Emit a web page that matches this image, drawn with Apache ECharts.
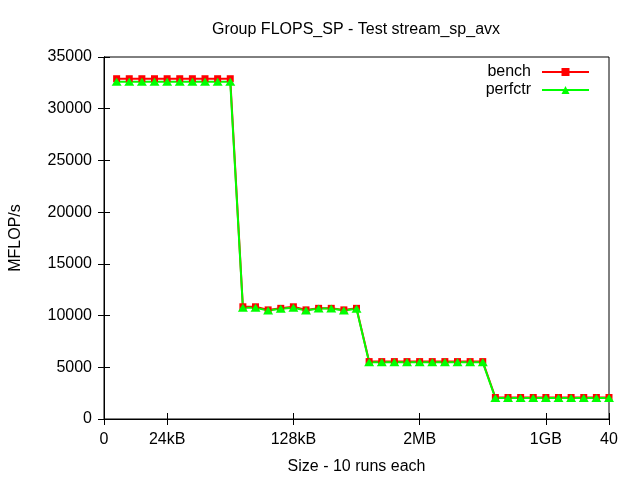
<!DOCTYPE html>
<html>
<head>
<meta charset="utf-8">
<script src="https://cdn.jsdelivr.net/npm/echarts@6/dist/echarts.min.js"></script>
<style>html,body{margin:0;padding:0;background:#fff}#c{width:640px;height:480px}</style>
</head>
<body>
<div id="c"></div>
<script>
const sizes = [1,2,3,4,5,6,7,8,9,10,11,12,13,14,15,16,17,18,19,20,21,22,23,24,25,26,27,28,29,30,31,32,33,34,35,36,37,38,39,40];
const bench = [32900,32900,32900,32900,32900,32900,32900,32900,32900,32900,
               10850,10850,10550,10700,10850,10550,10700,10700,10550,10700,
               5550,5550,5550,5550,5550,5550,5550,5550,5550,5550,
               2080,2080,2080,2080,2080,2080,2080,2080,2080,2080];
const perfctr = [32600,32600,32600,32600,32600,32600,32600,32600,32600,32600,
                 10750,10750,10480,10650,10750,10480,10680,10680,10480,10650,
                 5480,5480,5480,5480,5480,5480,5480,5480,5480,5480,
                 2020,2020,2020,2020,2020,2020,2020,2020,2020,2020];
const xTickValues = [0,5,15,25,35,40];
const xTickLabels = ['0','24kB','128kB','2MB','1GB','40'];
const titleText = 'Group FLOPS_SP - Test stream_sp_avx';
const xName = 'Size - 10 runs each';
const yName = 'MFLOP/s';

const FONT = 'Liberation Sans';
const FS = 16;
const chart = echarts.init(document.getElementById('c'));
const txt = {fontFamily: FONT, fontSize: FS, color: '#000'};
function pairs(ys){ return sizes.map((x,i)=>[x, ys[i]]); }
const xCommon = {
  type:'value', min:0, max:40,
  splitLine:{show:false},
  axisLine:{show:true, lineStyle:{color:'#000', width:1}},
  axisTick:{show:true, inside:true, length:6, customValues:xTickValues, lineStyle:{color:'#000'}},
};
const yCommon = {
  type:'value', min:0, max:35000, interval:5000,
  splitLine:{show:false},
  axisLine:{show:true, lineStyle:{color:'#000', width:1}},
  axisTick:{show:true, inside:true, length:6, lineStyle:{color:'#000'}},
};
chart.setOption({
  animation:false,
  backgroundColor:'#fff',
  title:{text:titleText, left:351, top:17, textAlign:'center',
         textStyle:{fontFamily:FONT, fontSize:FS, fontWeight:'normal', color:'#000'}},
  grid:{left:104, right:31, top:57, bottom:61, show:true, borderColor:'#000', borderWidth:1,
        containLabel:false, outerBoundsMode:'none'},
  legend:{
    orient:'vertical', right:45, top:59, align:'right',
    itemWidth:47, itemHeight:10, itemGap:2,
    textStyle:Object.assign({}, txt, {lineHeight:16, padding:[0,6,0,0]}),
    data:['bench','perfctr']
  },
  xAxis:[
    Object.assign({}, xCommon, {position:'bottom',
      name:xName, nameLocation:'middle', nameGap:40, nameTextStyle:txt,
      axisLabel:{show:true, customValues:xTickValues, margin:13, fontFamily:FONT, fontSize:FS, color:'#000',
        formatter:function(v){ const i = xTickValues.indexOf(v); return i>=0 ? xTickLabels[i] : ''; }}}),
    Object.assign({}, xCommon, {position:'top', axisLabel:{show:false}})
  ],
  yAxis:[
    Object.assign({}, yCommon, {position:'left',
      name:yName, nameLocation:'middle', nameGap:80, nameRotate:90, nameTextStyle:txt,
      axisLabel:{show:true, margin:12, fontFamily:FONT, fontSize:FS, color:'#000',
        formatter:function(v){ return String(v); }}}),
    Object.assign({}, yCommon, {position:'right', axisLabel:{show:false}})
  ],
  series:[
    {name:'bench', type:'line', data:pairs(bench), color:'#ff0000',
     lineStyle:{width:2, color:'#ff0000'}, symbol:'rect', symbolSize:7, showAllSymbol:true,
     itemStyle:{color:'#ff0000'}},
    {name:'perfctr', type:'line', data:pairs(perfctr), color:'#00ff00',
     lineStyle:{width:2, color:'#00ff00'}, symbol:'triangle', symbolSize:[10,8], showAllSymbol:true,
     itemStyle:{color:'#00ff00'}}
  ]
});
</script>
</body>
</html>
